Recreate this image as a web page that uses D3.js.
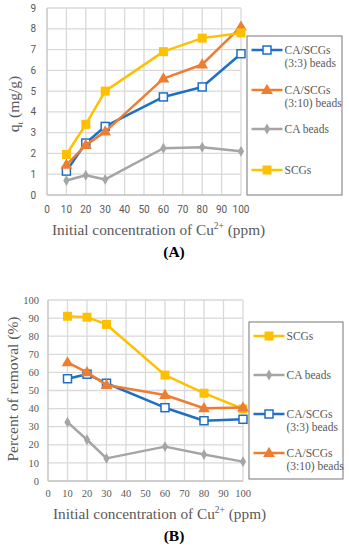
<!DOCTYPE html>
<html>
<head>
<meta charset="utf-8">
<script src="https://cdn.jsdelivr.net/npm/d3@7"></script>
<style>
  html, body { margin: 0; padding: 0; background: #fff; }
  svg { display: block; }
</style>
</head>
<body>
<svg id="chart" width="349" height="550"></svg>
<script>
const concentrations = [10, 20, 30, 60, 80, 100];
const xTicks = [0, 10, 20, 30, 40, 50, 60, 70, 80, 90, 100];

// panel A: q_t (mg/g)
const qtMix33 = [1.15, 2.5, 3.3, 4.72, 5.2, 6.8];
const qtMix310 = [1.45, 2.4, 3.05, 5.6, 6.28, 8.1];
const qtCA = [0.7, 0.95, 0.75, 2.25, 2.3, 2.1];
const qtSCG = [1.95, 3.4, 5.0, 6.9, 7.55, 7.8];

// panel B: percent of removal
const remSCG = [91, 90.5, 86.5, 58.5, 48.5, 39.8];
const remCA = [32.5, 22.8, 12.5, 19, 14.6, 10.7];
const remMix33 = [56.5, 59, 54, 40.5, 33.3, 34.1];
const remMix310 = [65.5, 60, 53, 47.5, 40.2, 40.6];

// single family names: font lists fall back to the default here
const SERIF = 'Liberation Serif';
const SANS = 'Roboto';

const series = {
  mix33:  { name: ['CA/SCGs', '(3:3) beads'],  color: '#1f6fc5', marker: 'openSquare' },
  mix310: { name: ['CA/SCGs', '(3:10) beads'], color: '#ed7d31', marker: 'triangle' },
  ca:     { name: ['CA beads'],                color: '#a5a5a5', marker: 'diamond' },
  scg:    { name: ['SCGs'],                    color: '#ffc000', marker: 'square' }
};

const svg = d3.select('#chart');
const gridColor = '#d9d9d9';
const textColor = '#595959';

function drawMarker(g, type, color, x, y) {
  if (type === 'openSquare') {
    g.append('rect').attr('x', x - 4).attr('y', y - 4).attr('width', 8).attr('height', 8)
      .attr('fill', '#fff').attr('stroke', color).attr('stroke-width', 1.5);
  } else if (type === 'square') {
    g.append('rect').attr('x', x - 4.5).attr('y', y - 4.5).attr('width', 9).attr('height', 9)
      .attr('fill', color);
  } else if (type === 'triangle') {
    g.append('path').attr('d', d3.symbol(d3.symbolTriangle, 60)()).attr('transform', `translate(${x},${y + 0.5})`)
      .attr('fill', color);
  } else if (type === 'diamond') {
    g.append('path').attr('d', d3.symbol(d3.symbolDiamond, 34)()).attr('transform', `translate(${x},${y})`)
      .attr('fill', color);
  }
}

function panel(opts) {
  const x = d3.scaleLinear().domain([0, 100]).range([opts.left, opts.right]);
  const y = d3.scaleLinear().domain([0, opts.yMax]).range([opts.bottom, opts.top]);
  const g = svg.append('g');

  // gridlines
  g.selectAll('.vg').data(xTicks.slice(1)).enter().append('line')
    .attr('x1', d => x(d)).attr('x2', d => x(d)).attr('y1', opts.top).attr('y2', opts.bottom)
    .attr('stroke', gridColor).attr('stroke-width', 1.3);
  g.selectAll('.hg').data(opts.yTicks.slice(1)).enter().append('line')
    .attr('x1', opts.left).attr('x2', opts.right).attr('y1', d => y(d)).attr('y2', d => y(d))
    .attr('stroke', gridColor).attr('stroke-width', 1.3);
  g.append('line').attr('x1', opts.left).attr('x2', opts.left).attr('y1', opts.top).attr('y2', opts.bottom)
    .attr('stroke', '#bfbfbf').attr('stroke-width', 1.3);
  g.append('line').attr('x1', opts.left).attr('x2', opts.right).attr('y1', opts.bottom).attr('y2', opts.bottom)
    .attr('stroke', '#bfbfbf').attr('stroke-width', 1.3);

  // tick labels
  g.selectAll('.xt').data(xTicks).enter().append('text')
    .attr('font-family', opts.tickFont).attr('x', d => x(d)).attr('y', opts.bottom + opts.xTickDy)
    .attr('text-anchor', 'middle').attr('font-size', opts.tickSize).attr('fill', textColor)
    .text(d => d);
  g.selectAll('.yt').data(opts.yTicks).enter().append('text')
    .attr('font-family', opts.tickFont).attr('x', opts.left - opts.yTickGap).attr('y', d => y(d)).attr('dy', '0.35em')
    .attr('text-anchor', 'end').attr('font-size', opts.tickSize).attr('fill', textColor)
    .text(d => d);

  // series
  opts.data.forEach(s => {
    const st = series[s.key];
    const pts = concentrations.map((c, i) => [x(c), y(s.values[i])]);
    g.append('path').attr('d', d3.line()(pts)).attr('fill', 'none')
      .attr('stroke', st.color).attr('stroke-width', 2.5).attr('stroke-linejoin', 'round');
    pts.forEach(p => drawMarker(g, st.marker, st.color, p[0], p[1]));
  });

  // x-axis title
  const xt = g.append('text').attr('font-family', SERIF).attr('x', opts.left + 5)
    .attr('y', opts.bottom + opts.titleDy).attr('font-size', 15.3).attr('fill', textColor);
  xt.append('tspan').text('Initial concentration of Cu');
  xt.append('tspan').attr('font-size', 9.5).attr('dy', -6).text('2+');
  xt.append('tspan').attr('dy', 6).text(' (ppm)');

  // panel label
  g.append('text').attr('font-family', SERIF).attr('x', 174).attr('y', opts.bottom + opts.labelDy)
    .attr('text-anchor', 'middle').attr('font-size', 15.5).attr('font-weight', 'bold').attr('fill', '#000')
    .text(opts.label);

  // y-axis title
  const yt = g.append('text').attr('font-family', SERIF)
    .attr('transform', `translate(${opts.yTitleX},${opts.yTitleY}) rotate(-90)`)
    .attr('text-anchor', 'middle').attr('font-size', 15.5).attr('fill', textColor);
  opts.yTitle(yt);

  // legend
  const lg = g.append('g');
  lg.append('rect').attr('x', opts.legend.x).attr('y', opts.legend.y)
    .attr('width', opts.legend.w).attr('height', opts.legend.h)
    .attr('fill', '#fff').attr('stroke', '#8c8c8c').attr('stroke-width', 1.2);
  opts.legend.items.forEach(item => {
    const st = series[item.key];
    const lx = opts.legend.x + 4.5;
    lg.append('line').attr('x1', lx).attr('x2', lx + 31).attr('y1', item.y).attr('y2', item.y)
      .attr('stroke', st.color).attr('stroke-width', 2.5);
    drawMarker(lg, st.marker, st.color, lx + 15.5, item.y);
    const t = lg.append('text').attr('font-family', SERIF).attr('font-size', 11.5).attr('fill', textColor);
    st.name.forEach((line, i) => {
      t.append('tspan').attr('x', lx + 33).attr('y', item.y + 4 + i * 12.5).text(line);
    });
  });
}

panel({
  left: 47, right: 241, top: 8, bottom: 195, yMax: 9,
  yTicks: d3.range(0, 10), tickFont: SANS, tickSize: 10,
  xTickDy: 17.5, yTickGap: 11, titleDy: 40, labelDy: 62,
  label: '(A)', yTitleX: 19, yTitleY: 104,
  yTitle: t => {
    t.append('tspan').text('q');
    t.append('tspan').attr('font-size', 9).attr('dy', 4).text('t');
    t.append('tspan').attr('dy', -4).text('  (mg/g)');
  },
  data: [
    { key: 'mix33', values: qtMix33 },
    { key: 'mix310', values: qtMix310 },
    { key: 'ca', values: qtCA },
    { key: 'scg', values: qtSCG }
  ],
  legend: {
    x: 247, y: 36, w: 95, h: 159,
    items: [
      { key: 'mix33', y: 50 },
      { key: 'mix310', y: 90 },
      { key: 'ca', y: 129 },
      { key: 'scg', y: 170 }
    ]
  }
});

panel({
  left: 48, right: 243, top: 300, bottom: 481, yMax: 100,
  yTicks: d3.range(0, 101, 10), tickFont: SERIF, tickSize: 10.5,
  xTickDy: 15.5, yTickGap: 9, titleDy: 38, labelDy: 60,
  label: '(B)', yTitleX: 18, yTitleY: 389,
  yTitle: t => t.text('Percent of removal (%)'),
  data: [
    { key: 'scg', values: remSCG },
    { key: 'ca', values: remCA },
    { key: 'mix33', values: remMix33 },
    { key: 'mix310', values: remMix310 }
  ],
  legend: {
    x: 249, y: 322, w: 94, h: 157,
    items: [
      { key: 'scg', y: 336 },
      { key: 'ca', y: 375 },
      { key: 'mix33', y: 414 },
      { key: 'mix310', y: 453 }
    ]
  }
});
</script>
</body>
</html>
